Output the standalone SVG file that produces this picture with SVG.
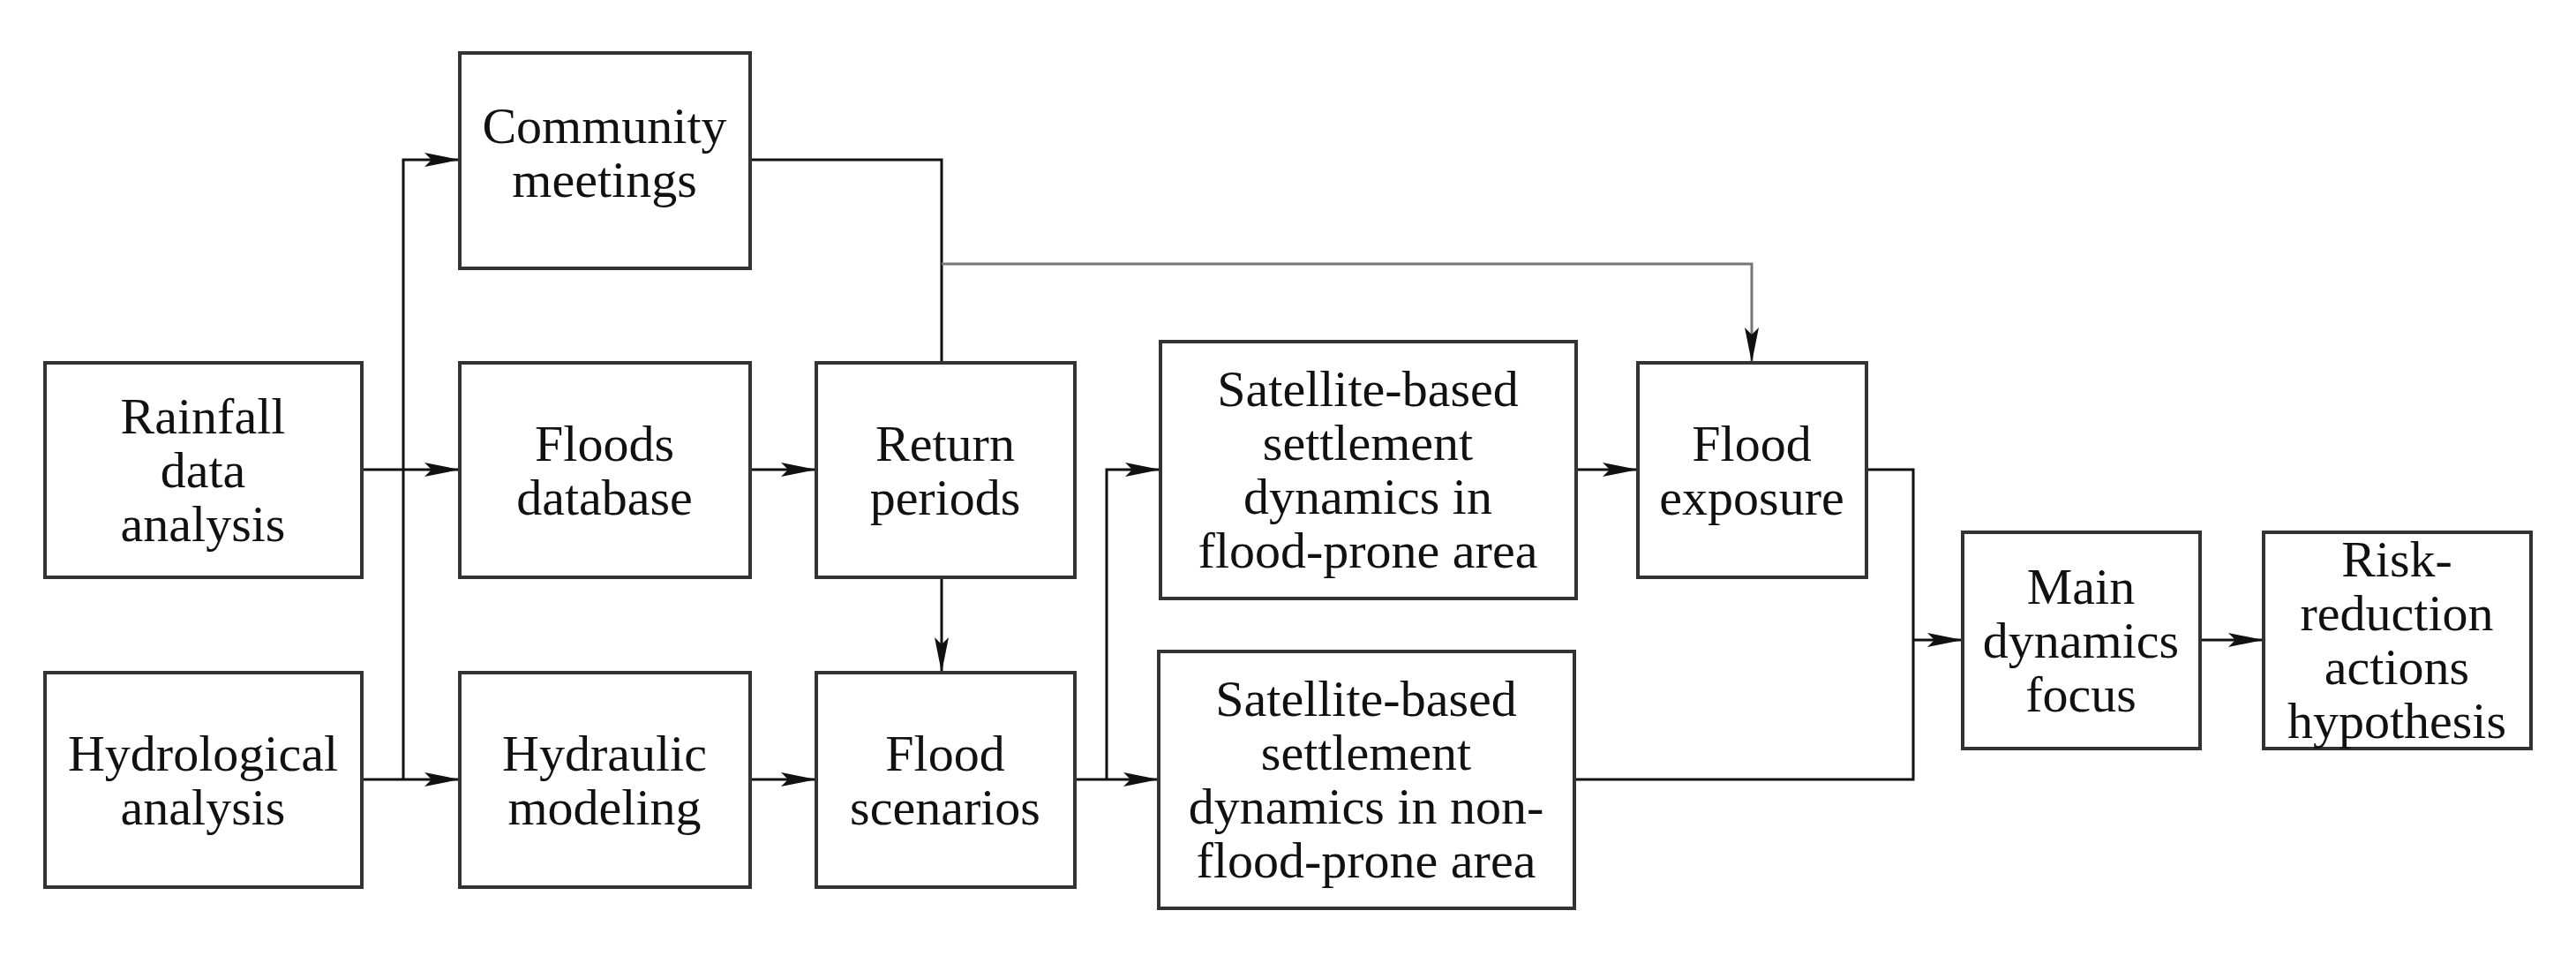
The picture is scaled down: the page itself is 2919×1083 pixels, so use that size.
<svg xmlns="http://www.w3.org/2000/svg" width="2919" height="1083" viewBox="0 0 2919 1083">
<defs>
<style>
rect{fill:#fff;stroke:#333;stroke-width:4}
text{font-family:"Liberation Serif",serif;font-size:58px;fill:#111;text-anchor:middle}
.c path{fill:none;stroke:#111;stroke-width:3}
.c path.g{stroke:#777}
</style>
<marker id="a" markerWidth="12" markerHeight="8" refX="12" refY="4" orient="auto" markerUnits="userSpaceOnUse" viewBox="0 0 12 8"><path d="M0,0L12,4L0,8L3,4z" fill="#111" transform="scale(1)"/></marker>
<marker id="b" markerWidth="40" markerHeight="20" refX="40" refY="10" orient="auto" markerUnits="userSpaceOnUse"><path d="M0,2L40,10L0,18L8,10z" fill="#111"/></marker>
</defs>
<rect x="0" y="0" width="2919" height="1083" style="fill:#fff;stroke:none"/>
<g class="c" id="connectors">
<path d="M410,532H521" marker-end="url(#b)"/>
<path d="M410,883H521" marker-end="url(#b)"/>
<path d="M457,883V181H521" marker-end="url(#b)"/>
<path d="M850,532H925" marker-end="url(#b)"/>
<path d="M850,883H925" marker-end="url(#b)"/>
<path d="M1067,654V762" marker-end="url(#b)"/>
<path d="M850,181H1067V411"/>
<path class="g" d="M1067,299H1985V411" marker-end="url(#b)"/>
<path d="M1218,883H1313" marker-end="url(#b)"/>
<path d="M1254,883V532H1315" marker-end="url(#b)"/>
<path d="M1786,532H1856" marker-end="url(#b)"/>
<path d="M2115,532H2168V883H1786"/>
<path d="M2168,725H2224" marker-end="url(#b)"/>
<path d="M2493,725H2565" marker-end="url(#b)"/>
</g>
<g id="community"><rect x="521" y="60" width="329" height="244"/><text x="685" y="162">Community</text><text x="685" y="223">meetings</text></g>
<g id="rainfall"><rect x="51" y="411" width="359" height="243"/><text x="230" y="491">Rainfall</text><text x="230" y="552">data</text><text x="230" y="613">analysis</text></g>
<g id="floodsdb"><rect x="521" y="411" width="329" height="243"/><text x="685" y="522">Floods</text><text x="685" y="583">database</text></g>
<g id="return"><rect x="925" y="411" width="293" height="243"/><text x="1071" y="522">Return</text><text x="1071" y="583">periods</text></g>
<g id="hydrological"><rect x="51" y="762" width="359" height="243"/><text x="230" y="873">Hydrological</text><text x="230" y="934">analysis</text></g>
<g id="hydraulic"><rect x="521" y="762" width="329" height="243"/><text x="685" y="873">Hydraulic</text><text x="685" y="934">modeling</text></g>
<g id="scenarios"><rect x="925" y="762" width="293" height="243"/><text x="1071" y="873">Flood</text><text x="1071" y="934">scenarios</text></g>
<g id="sat1"><rect x="1315" y="387" width="471" height="291"/><text x="1550" y="460">Satellite-based</text><text x="1550" y="521">settlement</text><text x="1550" y="582">dynamics in</text><text x="1550" y="643">flood-prone area</text></g>
<g id="sat2"><rect x="1313" y="738" width="471" height="291"/><text x="1548" y="811">Satellite-based</text><text x="1548" y="872">settlement</text><text x="1548" y="933">dynamics in non-</text><text x="1548" y="994">flood-prone area</text></g>
<g id="exposure"><rect x="1856" y="411" width="259" height="243"/><text x="1985" y="522">Flood</text><text x="1985" y="583">exposure</text></g>
<g id="main"><rect x="2224" y="603" width="269" height="245"/><text x="2358" y="684">Main</text><text x="2358" y="745">dynamics</text><text x="2358" y="806">focus</text></g>
<g id="risk"><rect x="2565" y="603" width="303" height="245"/><text x="2716" y="653">Risk-</text><text x="2716" y="714">reduction</text><text x="2716" y="775">actions</text><text x="2716" y="836">hypothesis</text></g>
</svg>
